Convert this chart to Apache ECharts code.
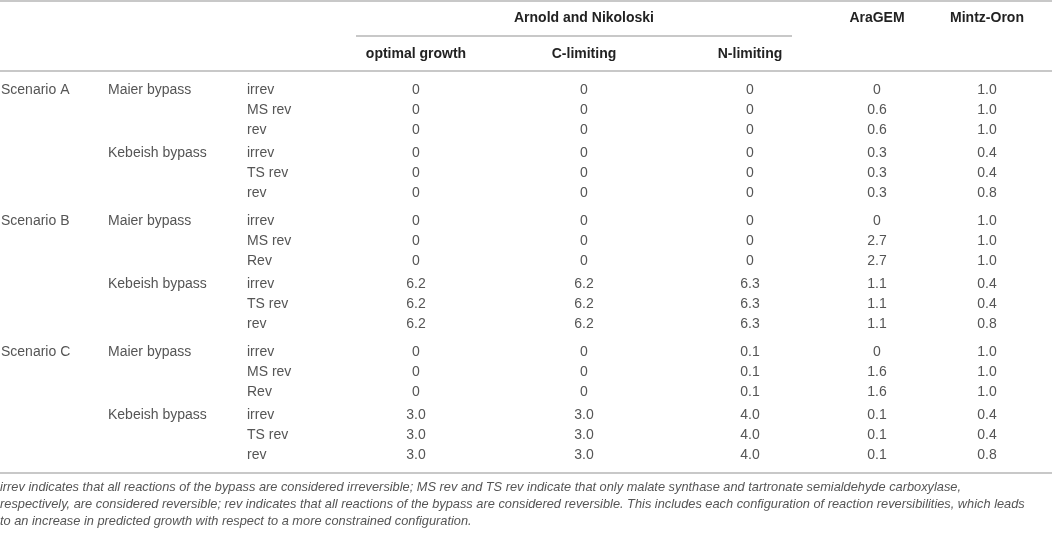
<!DOCTYPE html>
<html style="height: 100%">
<head>
<meta charset="utf-8">
<script src="https://cdn.jsdelivr.net/npm/echarts@6/dist/echarts.min.js"></script>
</head>
<body style="height: 100%; margin: 0; background: #fff">
<div id="container" style="width: 1052px; height: 533px"></div>
<script type="text/javascript">
// ---- table content ----
var scenarios = ['Scenario A', 'Scenario B', 'Scenario C'];
var bypasses = ['Maier bypass', 'Kebeish bypass'];
var configs = [
  'irrev', 'MS rev', 'rev', 'irrev', 'TS rev', 'rev',
  'irrev', 'MS rev', 'Rev', 'irrev', 'TS rev', 'rev',
  'irrev', 'MS rev', 'Rev', 'irrev', 'TS rev', 'rev'
];
var groupHeader = 'Arnold and Nikoloski';
var columnHeaders = ['optimal growth', 'C-limiting', 'N-limiting', 'AraGEM', 'Mintz-Oron'];
var optimalGrowth = [0, 0, 0, 0, 0, 0, 0, 0, 0, 6.2, 6.2, 6.2, 0, 0, 0, 3.0, 3.0, 3.0];
var cLimiting     = [0, 0, 0, 0, 0, 0, 0, 0, 0, 6.2, 6.2, 6.2, 0, 0, 0, 3.0, 3.0, 3.0];
var nLimiting     = [0, 0, 0, 0, 0, 0, 0, 0, 0, 6.3, 6.3, 6.3, 0.1, 0.1, 0.1, 4.0, 4.0, 4.0];
var araGEM        = [0, 0.6, 0.6, 0.3, 0.3, 0.3, 0, 2.7, 2.7, 1.1, 1.1, 1.1, 0, 1.6, 1.6, 0.1, 0.1, 0.1];
var mintzOron     = [1.0, 1.0, 1.0, 0.4, 0.4, 0.8, 1.0, 1.0, 1.0, 0.4, 0.4, 0.8, 1.0, 1.0, 1.0, 0.4, 0.4, 0.8];
var footnoteLines = [
  'irrev indicates that all reactions of the bypass are considered irreversible; MS rev and TS rev indicate that only malate synthase and tartronate semialdehyde carboxylase,',
  'respectively, are considered reversible; rev indicates that all reactions of the bypass are considered reversible. This includes each configuration of reaction reversibilities, which leads',
  'to an increase in predicted growth with respect to a more constrained configuration.'
];

// ---- layout (pixel space of the 1052x533 canvas) ----
var W = 1052, H = 533;
var labelX = [1, 108, 247];
var valueX = [416, 584, 750, 877, 987];
function rowY(r) {
  return 90 + r * 20 + Math.floor(r / 3) * 3.5 + Math.floor(r / 6) * 4;
}

var bodyFont = '14px "Liberation Sans", Arial, sans-serif';
var headFont = 'bold 14px "Liberation Sans", Arial, sans-serif';
var noteFont = 'italic 12.8px "Liberation Sans", Arial, sans-serif';
var bodyColor = '#555';
var headColor = '#222';

function fmt(v) { return v === 0 ? '0' : v.toFixed(1); }

var cells = [];
function addCell(x, y, text, font, align, color) {
  cells.push({ pos: [x, y], text: text, font: font, align: align, color: color });
}

// headers
addCell(valueX[1], 18, groupHeader, headFont, 'center', headColor);
addCell(valueX[3], 18, columnHeaders[3], headFont, 'center', headColor);
addCell(valueX[4], 18, columnHeaders[4], headFont, 'center', headColor);
for (var h = 0; h < 3; h++) {
  addCell(valueX[h], 54, columnHeaders[h], headFont, 'center', headColor);
}

// body
var valueCols = [optimalGrowth, cLimiting, nLimiting, araGEM, mintzOron];
for (var r = 0; r < configs.length; r++) {
  var y = rowY(r);
  if (r % 6 === 0) addCell(labelX[0], y, scenarios[r / 6], bodyFont, 'left', bodyColor);
  if (r % 3 === 0) addCell(labelX[1], y, bypasses[(r / 3) % 2], bodyFont, 'left', bodyColor);
  addCell(labelX[2], y, configs[r], bodyFont, 'left', bodyColor);
  for (var c = 0; c < valueCols.length; c++) {
    addCell(valueX[c], y, fmt(valueCols[c][r]), bodyFont, 'center', bodyColor);
  }
}

// footnote
for (var f = 0; f < footnoteLines.length; f++) {
  addCell(0, 487 + f * 17, footnoteLines[f], noteFont, 'left', bodyColor);
}

var ruleStyle = { color: '#c8c8c8', width: 2, type: 'solid' };
function rule(x1, x2, y) {
  return [{ coord: [x1, y] }, { coord: [x2, y] }];
}

var myChart = echarts.init(document.getElementById('container'));
var option = {
  animation: false,
  grid: { left: 0, right: 0, top: 0, bottom: 0 },
  xAxis: { type: 'value', min: 0, max: W, show: false },
  yAxis: { type: 'value', min: 0, max: H, inverse: true, show: false },
  series: [{
    type: 'custom',
    silent: true,
    data: cells.map(function (d) { return d.pos; }),
    renderItem: function (params, api) {
      var cell = cells[params.dataIndex];
      var pt = api.coord([api.value(0), api.value(1)]);
      return {
        type: 'text',
        x: pt[0],
        y: pt[1],
        style: {
          text: cell.text,
          font: cell.font,
          fill: cell.color,
          textAlign: cell.align,
          textVerticalAlign: 'middle',
          align: cell.align,
          verticalAlign: 'middle'
        }
      };
    },
    markLine: {
      silent: true,
      symbol: 'none',
      label: { show: false },
      lineStyle: ruleStyle,
      data: [
        rule(0, W, 1),
        rule(356, 792, 36),
        rule(0, W, 71),
        rule(0, W, 473)
      ]
    }
  }]
};
myChart.setOption(option);
</script>
</body>
</html>
